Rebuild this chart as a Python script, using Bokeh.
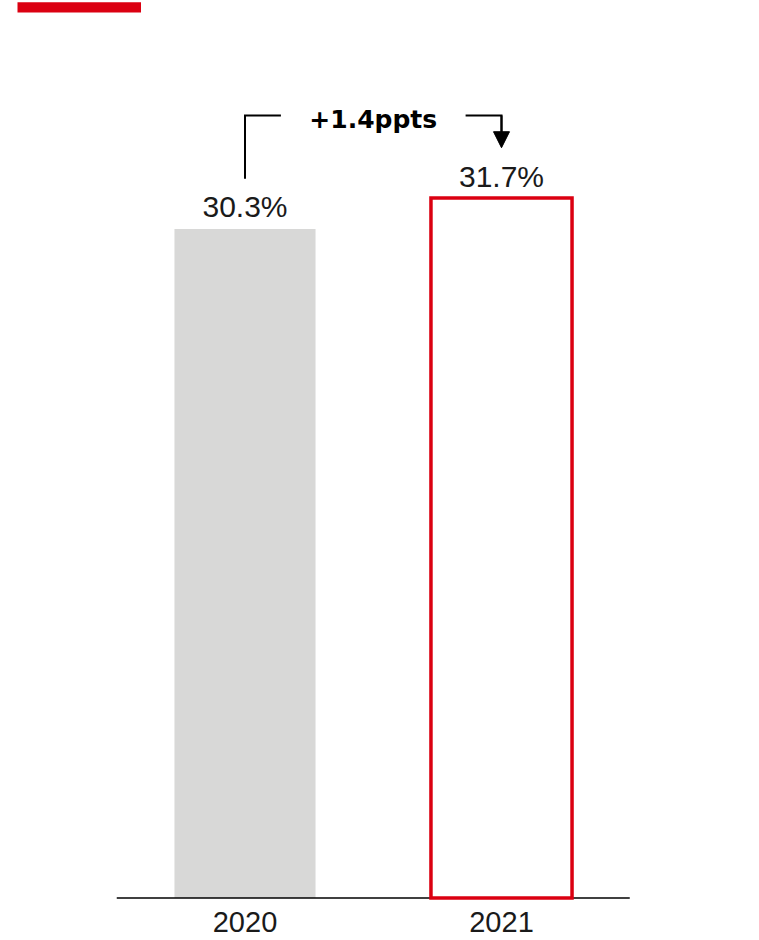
from bokeh.plotting import figure
from bokeh.models import Range1d, ColumnDataSource, Arrow, NormalHead
from bokeh.core.properties import value
from bokeh.embed import file_html
from bokeh.resources import INLINE

# Data
years = ["2020", "2021"]
margins = [30.3, 31.7]          # percent
value_labels = [f"{m:.1f}%" for m in margins]

# Layout (canvas pixels)
W, H = 759, 940
PX_X = 256.5      # pixels per category slot
PX_Y = 22.08      # pixels per percentage point
X0_PX = 116.25    # canvas x where the baseline starts
Y0_PX = 897.5     # canvas y of the baseline

RED = "#db0011"
GREY = "#d8d8d7"
INK = "#1a1a1a"
BAR_W = 0.55

p = figure(
    width=W, height=H, output_backend="svg", toolbar_location=None, tools="",
    x_range=Range1d(-X0_PX / PX_X, (W - X0_PX) / PX_X),
    y_range=Range1d(-(H - Y0_PX) / PX_Y, Y0_PX / PX_Y),
    x_axis_location=None, y_axis_location=None,
    min_border=0, outline_line_color=None,
    background_fill_color="white", border_fill_color="white",
)
p.xgrid.visible = False
p.ygrid.visible = False

# pixel-space ranges for page decoration
p.extra_x_ranges = {"canvas": Range1d(0, W)}
p.extra_y_ranges = {"canvas": Range1d(H, 0)}

xs = [i + 0.5 for i in range(len(years))]
src = ColumnDataSource(dict(x=xs, year=years, margin=margins, label=value_labels))

# red brand stripe at the top left
p.quad(left=17, right=140.5, top=1.7, bottom=12, fill_color=RED, line_color=None,
       x_range_name="canvas", y_range_name="canvas")

# previous year: solid grey bar
p.vbar(x=[xs[0]], top=[margins[0]], width=BAR_W, fill_color=GREY, line_color=None)

# baseline
p.segment(x0=[0], y0=[0], x1=[len(years)], y1=[0], line_color="black", line_width=1.5)

# current year: red outlined bar
p.vbar(x=[xs[1]], top=[margins[1]], width=BAR_W, fill_color="white", fill_alpha=0,
       line_color=RED, line_width=3.5, line_join="miter")

# value labels above bars
p.text(x="x", y="margin", text="label", source=src, text_align="center",
       text_baseline="alphabetic", y_offset=-22, text_font=value("Liberation Sans"),
       text_font_size="30px", text_color=INK)

# category labels under the baseline
p.text(x="x", y=0, text="year", source=src, text_align="center",
       text_baseline="alphabetic", y_offset=24, text_font=value("Liberation Sans"),
       text_font_size="29px", text_color=INK)

# change bracket
delta = margins[1] - margins[0]
LEG = 2.28
TOP = 35.44
ARM = 0.14
p.line(x=[xs[0], xs[0], xs[0] + ARM], y=[margins[0] + LEG, TOP, TOP],
       line_color="black", line_width=2, line_join="miter")
p.line(x=[xs[1] - ARM, xs[1], xs[1]], y=[TOP, TOP, margins[1] + LEG + 0.5],
       line_color="black", line_width=2, line_join="miter")
p.add_layout(Arrow(x_start=xs[1], y_start=TOP, x_end=xs[1], y_end=margins[1] + LEG,
                   line_color="black", line_width=2,
                   end=NormalHead(size=16, fill_color="black", line_color="black", line_width=1)))
p.text(x=[sum(xs) / len(xs)], y=[TOP], text=[f"+{delta:.1f}ppts"], text_align="center",
       text_baseline="alphabetic", y_offset=4, text_font=value("DejaVu Sans"),
       text_font_style="bold", text_font_size="25px", text_color="black")

open("out.html", "w").write(file_html(p, INLINE))
